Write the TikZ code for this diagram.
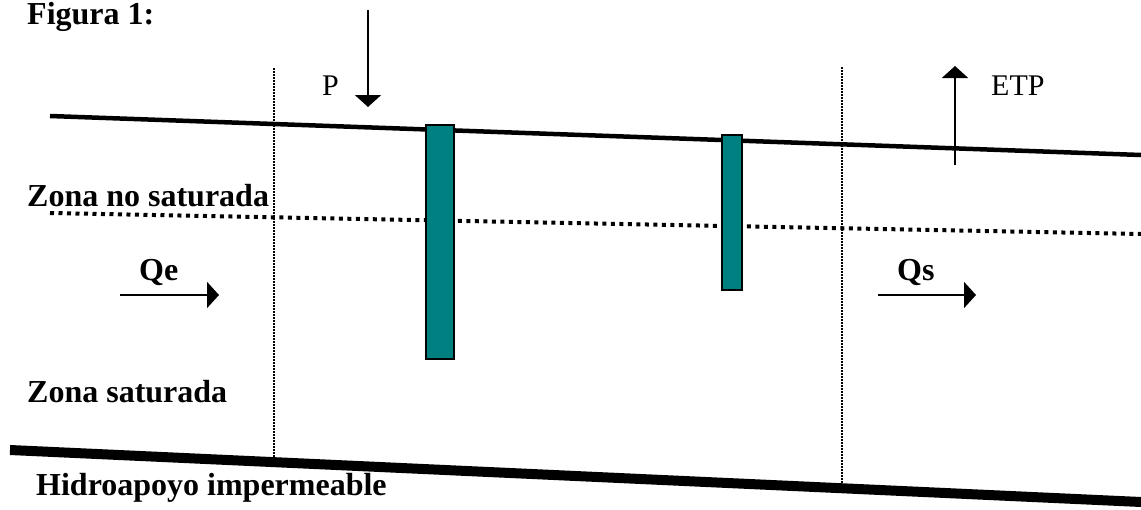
\documentclass[tikz,border=0pt]{standalone}
\usepackage{fontspec}
\setmainfont{Liberation Serif}
\usetikzlibrary{arrows.meta}
\begin{document}
\begin{tikzpicture}[x=1pt,y=-1pt,
  lbl/.style={anchor=base west,inner sep=0pt,font=\fontsize{32}{32}\selectfont\bfseries},
  rlbl/.style={anchor=base west,inner sep=0pt,font=\fontsize{30}{30}\selectfont},
  flow/.style={line width=2pt,-{Triangle[width=26pt,length=12pt]}},
  bound/.style={line width=1.2pt,dash pattern=on 1.5pt off 1.5pt},
  well/.style={draw=black,line width=1.5pt,fill=teal}]
\useasboundingbox (0,0) rectangle (1141,509);
% coordinates
\coordinate (s1) at (50,116); \coordinate (s2) at (1141,155);
\coordinate (w1) at (50,213); \coordinate (w2) at (1141,234);
\coordinate (b1) at (10,450); \coordinate (b2) at (1141,502);
\coordinate (v1t) at (274,68); \coordinate (v1b) at (274,458);
\coordinate (v2t) at (842,67); \coordinate (v2b) at (842,483);
\coordinate (pt) at (368,10); \coordinate (pb) at (368,107);
\coordinate (et) at (955,66); \coordinate (eb) at (955,165);
\coordinate (qe1) at (120,295); \coordinate (qe2) at (219,295);
\coordinate (qs1) at (878,295); \coordinate (qs2) at (976,295);
% lines
\draw[line width=4.5pt] (s1) -- (s2);
\draw[line width=4pt,dash pattern=on 4pt off 4.5pt] (w1) -- (w2);
\draw[line width=10pt] (b1) -- (b2);
\draw[bound] (v1t) -- (v1b);
\draw[bound] (v2t) -- (v2b);
% wells
\node[well,minimum width=28pt,minimum height=234pt,inner sep=0pt,anchor=north west] (well1) at (425,124) {};
\node[well,minimum width=20pt,minimum height=155pt,inner sep=0pt,anchor=north west] (well2) at (721,134) {};
% flows
\draw[flow] (pt) -- (pb);
\draw[flow] (eb) -- (et);
\draw[flow] (qe1) -- (qe2);
\draw[flow] (qs1) -- (qs2);
% labels
\node[lbl] (fig) at (27,24) {Figura 1:};
\node[rlbl] (P) at (322,95) {P};
\node[rlbl] (ETP) at (991,95) {ETP};
\node[lbl] (zns) at (27,206) {Zona no saturada};
\node[lbl] (Qe) at (139,280) {Qe};
\node[lbl] (Qs) at (897,280) {Qs};
\node[lbl] (zs) at (27,402) {Zona saturada};
\node[lbl] (hid) at (36,495) {Hidroapoyo impermeable};
\end{tikzpicture}
\end{document}
